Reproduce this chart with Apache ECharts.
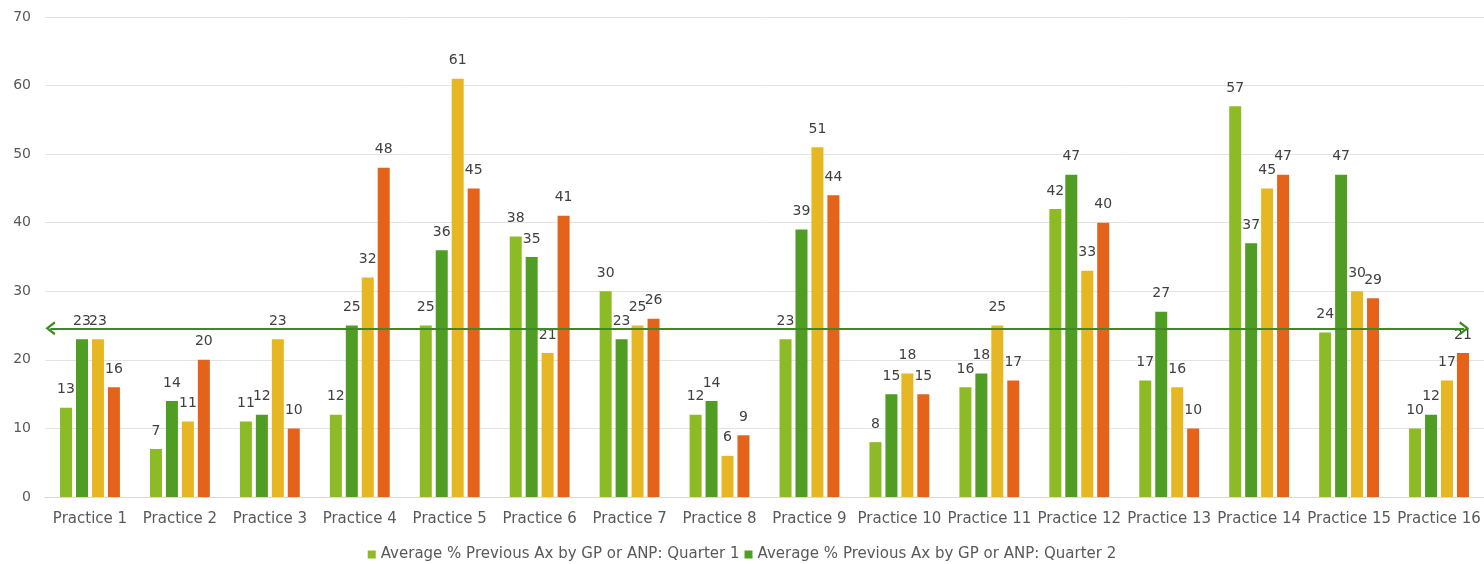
<!DOCTYPE html>
<html><head><meta charset="utf-8">
<script src="https://cdn.jsdelivr.net/npm/echarts@6/dist/echarts.min.js"></script>
<style>html,body{margin:0;padding:0;background:#fff}#c{width:1484px;height:564px}</style>
</head><body><div id="c"></div>
<script>
const categories = ['Practice 1','Practice 2','Practice 3','Practice 4','Practice 5','Practice 6','Practice 7','Practice 8','Practice 9','Practice 10','Practice 11','Practice 12','Practice 13','Practice 14','Practice 15','Practice 16'];
const seriesNames = ['Average % Previous Ax by GP or ANP: Quarter 1','Average % Previous Ax by GP or ANP: Quarter 2','Average % Previous Ax by GP or ANP: Quarter 3','Average % Previous Ax by GP or ANP: Quarter 4'];
const q1 = [13,7,11,12,25,38,30,12,23,8,16,42,17,57,24,10];
const q2 = [23,14,12,25,36,35,23,14,39,15,18,47,27,37,47,12];
const q3 = [23,11,23,32,61,21,25,6,51,18,25,33,16,45,30,17];
const q4 = [16,20,10,48,45,41,26,9,44,15,17,40,10,47,29,21];
// reference arrow: level and its extent in category-index units
const referenceLine = 24.6;
const arrowStart = -0.44;
const arrowEnd = 15.28;
const colors = ['#8dbb25','#4f9d22','#e6b722','#e5621b'];
const font = 'DejaVu Sans';
const all = [q1,q2,q3,q4];
const series = all.map((d,i)=>({
  name: seriesNames[i], type:'bar', data:d, barWidth:12, barGap:'33%',
  itemStyle:{color:colors[i]},
  label:{show:true, position:'top', distance:11, color:'#404040', fontFamily:font, fontSize:14}
}));
const chevron = 'path://M5,0 L10,9 L8.4,10 L5,3.6 L1.6,10 L0,9 Z';
series.push({
  name:'ref', type:'line', xAxisIndex:1, data:[], silent:true,
  markLine:{
    silent:true, symbol:[chevron, chevron], symbolSize:[14,10],
    lineStyle:{color:'#3f8a25', width:2, type:'solid'},
    label:{show:false},
    data:[[{coord:[arrowStart, referenceLine]},{coord:[arrowEnd, referenceLine]}]]
  }
});
const chart = echarts.init(document.getElementById('c'));
chart.setOption({
  animation:false,
  color:colors,
  grid:{left:45, right:0, top:17, bottom:67, containLabel:false},
  legend:{data:seriesNames.slice(0,2), bottom:-3, left:'center', itemWidth:8, itemHeight:8, itemGap:5,
    icon:'rect', textStyle:{color:'#595959', fontFamily:font, fontSize:15}},
  xAxis:[{type:'category', data:categories, axisTick:{show:false},
    axisLine:{lineStyle:{color:'#d9d9d9'}},
    axisLabel:{color:'#595959', fontFamily:font, fontSize:15, margin:15, interval:0}},
    {type:'value', min:-0.5, max:15.5, show:false}],
  yAxis:{type:'value', min:0, max:70, interval:10,
    axisLabel:{color:'#595959', fontFamily:font, fontSize:14, margin:14},
    splitLine:{lineStyle:{color:'#e3e3e3'}}, axisLine:{show:false}, axisTick:{show:false}},
  series
});
</script></body></html>
